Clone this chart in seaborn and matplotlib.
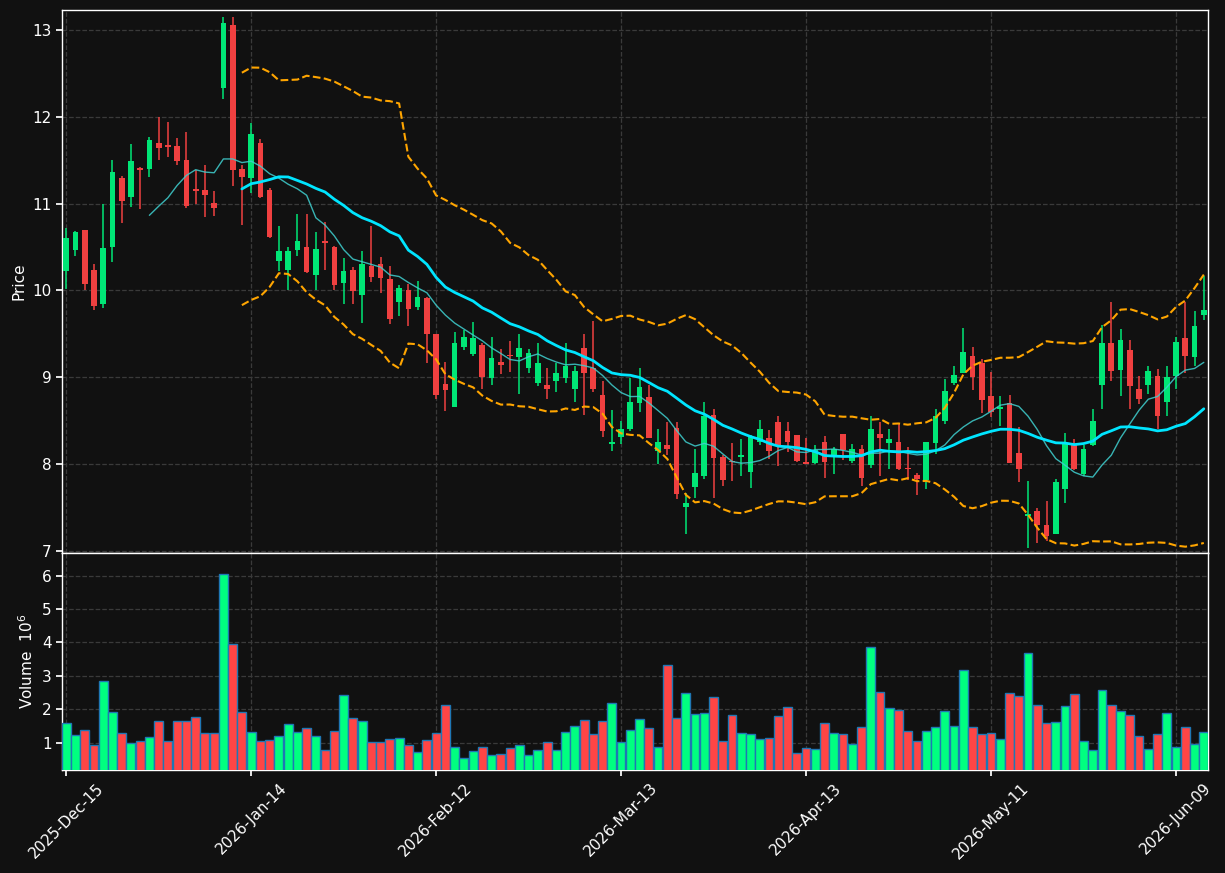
import numpy as np
import pandas as pd
import matplotlib
matplotlib.use("Agg")
import matplotlib.pyplot as plt
import seaborn as sns

# ── OHLC + volume (millions), one row per trading day ─────────────────────────
opens = [10.23, 10.47, 10.70, 10.24, 9.84, 10.50, 11.29, 11.08, 11.40, 11.40,
         11.70, 11.67, 11.66, 11.50, 11.16, 11.16, 11.01, 12.33, 13.06, 11.40,
         11.30, 11.70, 11.16, 10.34, 10.24, 10.47, 10.50, 10.18, 10.56, 10.50,
         10.09, 10.24, 9.95, 10.28, 10.30, 10.13, 9.87, 10.00, 9.81, 9.91,
         9.50, 8.92, 8.66, 9.35, 9.27, 9.37, 8.99, 9.18, 9.26, 9.23,
         9.11, 8.93, 8.91, 8.96, 8.99, 8.87, 9.34, 9.11, 8.80, 8.23,
         8.31, 8.40, 8.70, 8.77, 8.15, 8.22, 8.42, 7.51, 7.74, 7.86,
         8.57, 8.08, 8.04, 8.08, 7.91, 8.25, 8.30, 8.48, 8.38, 8.33,
         8.01, 8.01, 8.25, 8.09, 8.35, 8.04, 8.18, 7.99, 8.35, 8.24,
         8.25, 7.95, 7.87, 7.82, 8.24, 8.50, 8.93, 9.05, 9.25, 9.17,
         8.79, 8.64, 8.70, 8.13, 7.40, 7.46, 7.30, 7.20, 7.71, 8.23,
         7.89, 8.22, 8.91, 9.40, 9.08, 9.32, 8.86, 8.91, 9.01, 8.72,
         9.01, 9.45, 9.23, 9.72]
highs = [10.72, 10.69, 10.70, 10.31, 11.00, 11.50, 11.32, 11.69, 11.42, 11.77,
         12.00, 11.94, 11.76, 11.83, 11.39, 11.44, 11.15, 13.15, 13.15, 11.45,
         11.93, 11.75, 11.18, 10.74, 10.50, 10.88, 10.88, 10.67, 10.79, 10.51,
         10.37, 10.27, 10.45, 10.74, 10.38, 10.28, 10.06, 10.08, 10.11, 9.93,
         9.50, 9.18, 9.52, 9.54, 9.64, 9.40, 9.47, 9.33, 9.42, 9.50,
         9.33, 9.39, 9.11, 9.16, 9.39, 9.13, 9.50, 9.65, 8.96, 8.62,
         8.50, 8.99, 9.11, 8.91, 8.41, 8.49, 8.48, 7.67, 8.17, 8.71,
         8.64, 8.10, 8.24, 8.29, 8.33, 8.51, 8.39, 8.56, 8.49, 8.33,
         8.30, 8.22, 8.32, 8.20, 8.35, 8.23, 8.22, 8.56, 8.48, 8.41,
         8.46, 8.20, 7.90, 8.26, 8.64, 8.98, 9.13, 9.57, 9.35, 9.21,
         9.06, 8.79, 8.80, 8.43, 7.81, 7.49, 7.58, 7.83, 8.36, 8.29,
         8.22, 8.64, 9.60, 9.87, 9.56, 9.43, 9.01, 9.13, 9.10, 9.13,
         9.46, 9.87, 9.76, 10.17]
lows = [10.02, 10.40, 10.00, 9.78, 9.80, 10.33, 10.78, 10.96, 10.94, 11.31,
        11.50, 11.54, 11.44, 10.95, 11.00, 10.85, 10.86, 12.21, 11.20, 10.75,
        11.12, 11.07, 10.60, 10.22, 10.01, 10.40, 10.20, 10.00, 10.24, 10.01,
        9.85, 9.84, 9.62, 10.10, 9.97, 9.61, 9.71, 9.59, 9.78, 9.17,
        8.75, 8.61, 8.66, 9.31, 9.25, 8.87, 8.91, 9.04, 9.06, 8.81,
        9.05, 8.90, 8.75, 8.83, 8.94, 8.71, 8.57, 8.83, 8.31, 8.15,
        8.23, 8.38, 8.60, 8.30, 8.00, 8.10, 7.60, 7.20, 7.61, 7.83,
        7.61, 7.75, 7.81, 7.86, 7.72, 8.22, 8.06, 7.98, 8.14, 8.03,
        8.00, 8.00, 7.84, 7.89, 8.05, 8.01, 7.75, 7.95, 7.86, 7.94,
        7.93, 7.82, 7.65, 7.71, 8.12, 8.46, 8.91, 9.05, 8.85, 8.59,
        8.54, 8.44, 8.01, 7.80, 7.03, 7.09, 7.11, 7.19, 7.55, 7.93,
        7.86, 8.21, 8.64, 8.96, 8.78, 8.64, 8.69, 8.81, 8.41, 8.56,
        8.87, 9.05, 9.13, 9.66]
closes = [10.60, 10.67, 10.07, 9.82, 10.49, 11.37, 11.03, 11.49, 11.39, 11.73,
          11.64, 11.65, 11.49, 10.97, 11.15, 11.10, 10.95, 13.08, 11.39, 11.31,
          11.80, 11.08, 10.62, 10.46, 10.45, 10.57, 10.21, 10.48, 10.55, 10.06,
          10.23, 9.99, 10.31, 10.15, 10.14, 9.67, 10.03, 9.79, 9.93, 9.50,
          8.80, 8.85, 9.39, 9.46, 9.45, 9.00, 9.22, 9.14, 9.24, 9.34,
          9.28, 9.17, 8.87, 9.05, 9.13, 9.07, 9.05, 8.87, 8.38, 8.25,
          8.40, 8.71, 8.89, 8.30, 8.25, 8.17, 7.66, 7.55, 7.90, 8.56,
          8.07, 7.82, 8.02, 8.11, 8.32, 8.40, 8.15, 8.22, 8.26, 8.04,
          8.00, 8.16, 8.02, 8.17, 8.16, 8.18, 7.84, 8.41, 8.30, 8.29,
          7.94, 7.94, 7.83, 8.26, 8.56, 8.84, 9.03, 9.29, 9.00, 8.74,
          8.60, 8.64, 8.01, 7.94, 7.43, 7.30, 7.17, 7.80, 8.24, 7.94,
          8.18, 8.50, 9.40, 9.07, 9.43, 8.90, 8.75, 9.07, 8.55, 9.00,
          9.41, 9.25, 9.59, 9.77]
volumes = [1.60, 1.24, 1.39, 0.92, 2.86, 1.93, 1.28, 0.98, 1.04, 1.18,
           1.66, 1.04, 1.66, 1.66, 1.78, 1.30, 1.28, 6.06, 3.96, 1.93,
           1.33, 1.04, 1.09, 1.21, 1.57, 1.33, 1.45, 1.21, 0.79, 1.36,
           2.44, 1.75, 1.66, 1.03, 1.03, 1.12, 1.15, 0.94, 0.73, 1.09,
           1.30, 2.14, 0.88, 0.55, 0.76, 0.88, 0.64, 0.67, 0.85, 0.94,
           0.64, 0.79, 1.03, 0.79, 1.33, 1.51, 1.69, 1.27, 1.66, 2.20,
           1.03, 1.39, 1.72, 1.45, 0.88, 3.31, 1.75, 2.50, 1.87, 1.90,
           2.38, 1.06, 1.84, 1.30, 1.27, 1.12, 1.15, 1.81, 2.08, 0.70,
           0.85, 0.82, 1.60, 1.30, 1.27, 0.97, 1.48, 3.87, 2.53, 2.05,
           1.99, 1.36, 1.06, 1.36, 1.48, 1.96, 1.51, 3.16, 1.48, 1.27,
           1.30, 1.12, 2.50, 2.41, 3.67, 2.14, 1.60, 1.63, 2.11, 2.47,
           1.06, 0.79, 2.59, 2.14, 1.96, 1.84, 1.21, 0.82, 1.27, 1.90,
           0.88, 1.48, 0.97, 1.33]
tick_pos = [0, 20, 40, 60, 80, 100, 120]
tick_labels = ["2025-Dec-15", "2026-Jan-14", "2026-Feb-12", "2026-Mar-13",
               "2026-Apr-13", "2026-May-11", "2026-Jun-09"]

df = pd.DataFrame({"open": opens, "high": highs, "low": lows,
                   "close": closes, "volume": volumes})
df["idx"] = np.arange(len(df))
df["up"] = df["close"] >= df["open"]
df["ma10"] = df["close"].rolling(10).mean()
df["ma20"] = df["close"].rolling(20).mean()
sd = df["close"].rolling(20).std(ddof=0)
df["bb_up"] = df["ma20"] + 2 * sd
df["bb_lo"] = df["ma20"] - 2 * sd

BG = "#111111"
sns.set_theme(style="darkgrid", rc={
    "figure.facecolor": BG, "axes.facecolor": BG, "axes.edgecolor": "white",
    "grid.color": "#3a3a3a", "grid.linestyle": "--", "grid.linewidth": 0.9,
    "text.color": "white", "axes.labelcolor": "white",
    "xtick.color": "white", "ytick.color": "white",
    "xtick.bottom": True, "ytick.left": True,
})
plt.rcParams["font.family"] = ["DejaVu Sans"]

fig = plt.figure(figsize=(12.25, 8.73), dpi=100)
ax = fig.add_axes([0.0506, 0.3666, 0.9355, 0.6219])
axv = fig.add_axes([0.0506, 0.1180, 0.9355, 0.2486], sharex=ax)

UP, DN = "#00e676", "#f04040"
col = np.where(df["up"], UP, DN)

# candles
ax.vlines(df["idx"], df["low"], df["high"], colors=col, lw=1.1, zorder=2)
body_lo = np.minimum(df["open"], df["close"])
body_h = np.maximum((df["close"] - df["open"]).abs(), 0.02)
ax.bar(df["idx"], body_h, bottom=body_lo, width=0.62, color=col,
       linewidth=0, zorder=3)

# moving averages + bollinger bands
sns.lineplot(data=df, x="idx", y="ma10", ax=ax, color="#3fd0d0", lw=1.0,
             alpha=0.85, zorder=4)
sns.lineplot(data=df, x="idx", y="ma20", ax=ax, color="#00e5ff", lw=2.0,
             zorder=4)
sns.lineplot(data=df, x="idx", y="bb_up", ax=ax, color="#ffa500", lw=1.5,
             linestyle="--", zorder=4)
sns.lineplot(data=df, x="idx", y="bb_lo", ax=ax, color="#ffa500", lw=1.5,
             linestyle="--", zorder=4)

ax.set_ylim(6.977, 13.23)
ax.set_yticks(range(7, 14))
ax.set_ylabel("Price", fontsize=11)
ax.set_xlabel("")
ax.tick_params(axis="x", labelbottom=False, length=0)
ax.tick_params(axis="y", labelsize=11, length=4)

# volume
vcol = np.where(df["up"], "#00ff80", "#ff4545")
axv.bar(df["idx"], df["volume"], width=0.95, color=vcol,
        edgecolor="#1f77b4", linewidth=1.0, zorder=3)
axv.set_ylim(0.18, 6.68)
axv.set_yticks(range(1, 7))
axv.set_ylabel("Volume  $10^6$", fontsize=11)
axv.tick_params(axis="y", labelsize=11, length=4)
axv.set_xticks(tick_pos)
axv.set_xticklabels(tick_labels, rotation=45, ha="center", fontsize=11)
axv.tick_params(axis="x", length=4)
axv.set_xlim(-0.45, 123.45)

for a in (ax, axv):
    for s in a.spines.values():
        s.set_color("white")
        s.set_linewidth(1.0)
    a.grid(True, which="major", axis="both")

fig.savefig("out.png", dpi=100, facecolor=BG)
